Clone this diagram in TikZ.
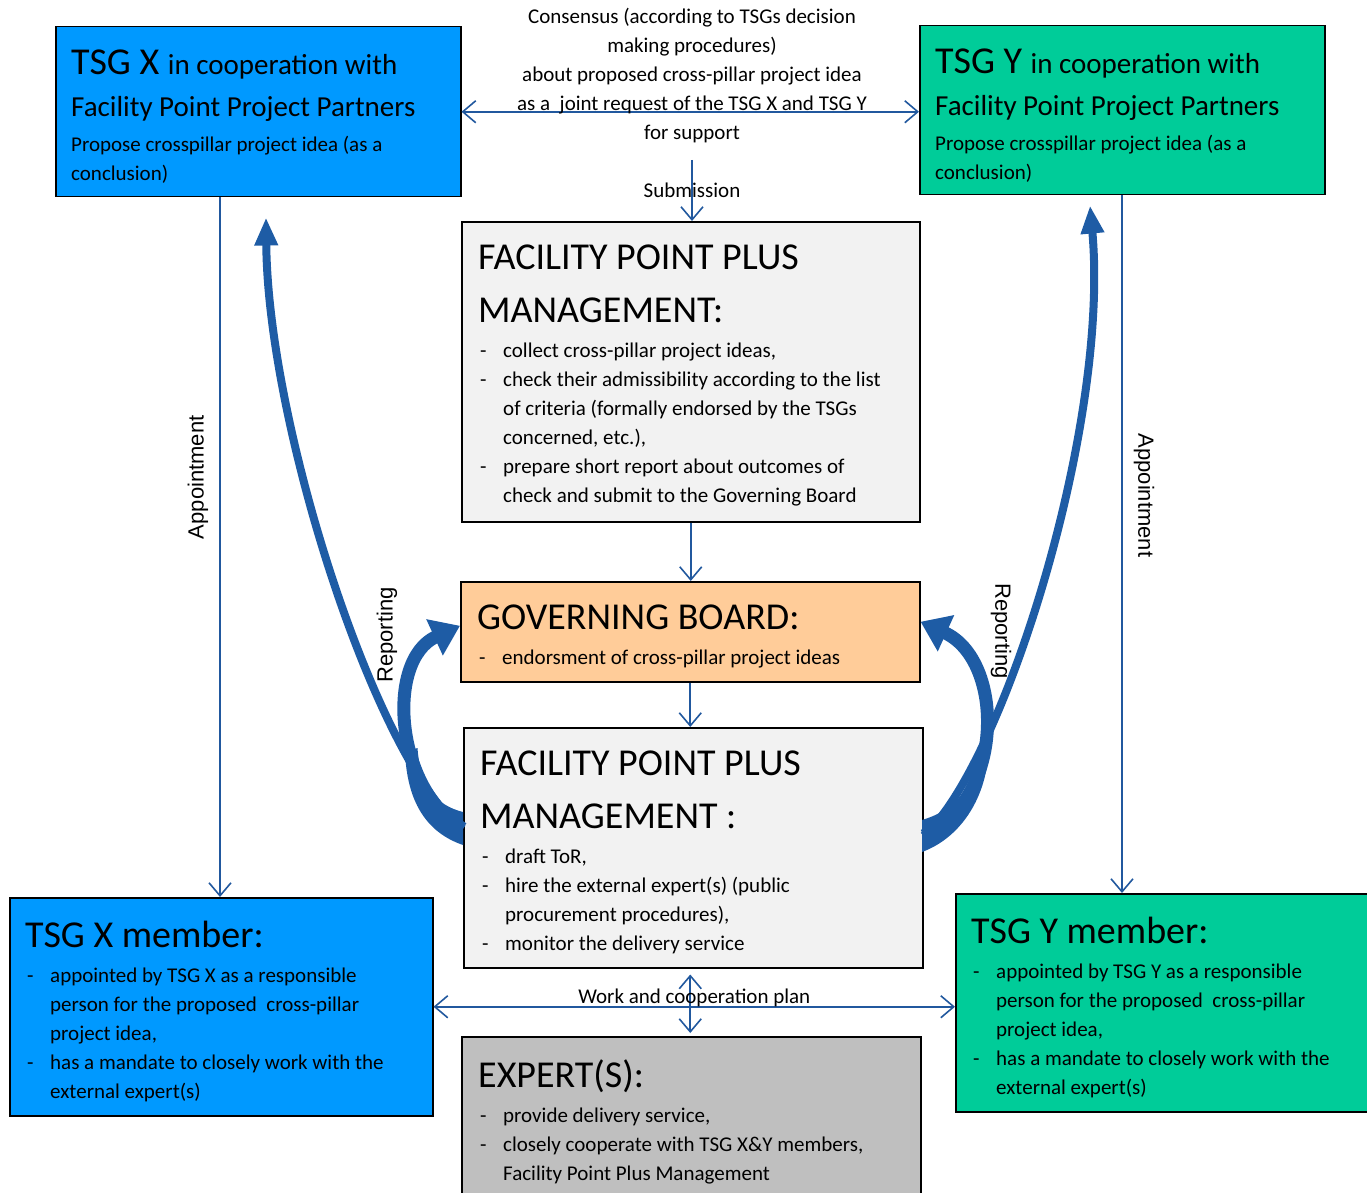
\documentclass[tikz,border=0pt]{standalone}
\usepackage{fontspec}
\setmainfont{Carlito}
\newfontfamily\arialfont{Liberation Sans}
\usetikzlibrary{positioning,arrows.meta}

\definecolor{tsgxblue}{RGB}{0,153,255}
\definecolor{tsgygreen}{RGB}{0,204,153}
\definecolor{boardpeach}{RGB}{255,204,153}
\definecolor{mgmtgray}{RGB}{242,242,242}
\definecolor{expertgray}{RGB}{191,191,191}
\definecolor{linkblue}{RGB}{33,88,158}
\definecolor{swooshblue}{RGB}{30,92,165}

\newcommand{\titlefont}{\fontsize{38}{53}\selectfont\spaceskip=0pt\xspaceskip=0pt}
\newcommand{\midfont}{\fontsize{29}{42}\selectfont\spaceskip=0pt\xspaceskip=0pt}
\newcommand{\bodyfont}{\fontsize{21}{29}\selectfont\spaceskip=0pt\xspaceskip=0pt}
\newcommand{\bodygap}{\vspace{6pt}}
\newcommand{\itm}[1]{\par\hangindent=25pt\hangafter=1\noindent\makebox[25pt][l]{\hspace{2pt}-}#1\par}

\tikzset{
  panel/.style={draw=black, line width=1.5pt, anchor=north west, inner sep=0pt},
  paneltext/.style={inner sep=0pt, text width=#1, execute at begin node={\raggedright}},
  link/.style={draw=linkblue, line width=1.6pt, >={Straight Barb[length=13pt,width=22pt]}, ->},
  twoway/.style={link, <->},
  swoosh/.style 2 args={draw=swooshblue, line width=#1, -{Triangle[length=28pt,width=#2]}},
  swooshbase/.style={fill=swooshblue},
  sidelabel/.style={font=\arialfont\fontsize{22}{26}\selectfont, inner sep=11pt}
}

\begin{document}
\begin{tikzpicture}[x=1pt,y=-1pt]
\useasboundingbox (0,0) rectangle (1367,1193);

% TSG boxes on top
\node[panel, fill=tsgxblue, minimum width=405pt, minimum height=170pt] (tsgx) at (55,26) {};
\node[paneltext=390pt, below right=24pt and 16pt of tsgx.north west] (tsgxtext) {%
  \titlefont TSG X \midfont in cooperation with\par
  \midfont Facility Point Project Partners\par
  \bodygap\bodyfont Propose crosspillar project idea (as a\newline conclusion)\par};

\node[panel, fill=tsgygreen, minimum width=405pt, minimum height=169pt] (tsgy) at (919,25) {};
\node[paneltext=390pt, below right=24pt and 16pt of tsgy.north west] (tsgytext) {%
  \titlefont TSG Y \midfont in cooperation with\par
  \midfont Facility Point Project Partners\par
  \bodygap\bodyfont Propose crosspillar project idea (as a\newline conclusion)\par};

% Management, board, experts in the middle
\node[panel, fill=mgmtgray, minimum width=458pt, minimum height=300pt] (mgmtA) at (461,221) {};
\node[paneltext=440pt, below right=24pt and 17pt of mgmtA.north west] (mgmtAtext) {%
  \titlefont FACILITY POINT PLUS\newline MANAGEMENT:\par
  \bodygap\bodyfont
  \itm{collect cross-pillar project ideas,}
  \itm{check their admissibility according to the list\newline of criteria (formally endorsed by the TSGs\newline concerned, etc.),}
  \itm{prepare short report about outcomes of\newline check and submit to the Governing Board}};

\node[panel, fill=boardpeach, minimum width=459pt, minimum height=100pt] (gb) at (460,581) {};
\node[paneltext=440pt, below right=24pt and 17pt of gb.north west] (gbtext) {%
  \titlefont GOVERNING BOARD:\par
  \bodygap\bodyfont
  \itm{endorsment of cross-pillar project ideas}};

\node[panel, fill=mgmtgray, minimum width=459pt, minimum height=240pt] (mgmtB) at (463,727) {};
\node[paneltext=440pt, below right=24pt and 17pt of mgmtB.north west] (mgmtBtext) {%
  \titlefont FACILITY POINT PLUS\newline MANAGEMENT :\par
  \bodygap\bodyfont
  \itm{draft ToR,}
  \itm{hire the external expert(s) (public\newline procurement procedures),}
  \itm{monitor the delivery service}};

\node[panel, fill=expertgray, minimum width=459pt, minimum height=175pt] (expert) at (461,1036) {};
\node[paneltext=440pt, below right=23pt and 17pt of expert.north west] (experttext) {%
  \titlefont EXPERT(S):\par
  \bodygap\bodyfont
  \itm{provide delivery service,}
  \itm{closely cooperate with TSG X\&Y members,\newline Facility Point Plus Management}};

% Members at the bottom
\node[panel, fill=tsgxblue, minimum width=423pt, minimum height=218pt] (memx) at (9,897) {};
\node[paneltext=405pt, below right=24pt and 16pt of memx.north west] (memxtext) {%
  \titlefont TSG X member:\par
  \bodygap\bodyfont
  \itm{appointed by TSG X as a responsible\newline person for the proposed\ \ cross-pillar\newline project idea,}
  \itm{has a mandate to closely work with the\newline external expert(s)}};

\node[panel, fill=tsgygreen, minimum width=417pt, minimum height=218pt] (memy) at (955,893) {};
\node[paneltext=400pt, below right=24pt and 16pt of memy.north west] (memytext) {%
  \titlefont TSG Y member:\par
  \bodygap\bodyfont
  \itm{appointed by TSG Y as a responsible\newline person for the proposed\ \ cross-pillar\newline project idea,}
  \itm{has a mandate to closely work with the\newline external expert(s)}};

% Consensus and submission
\draw[twoway] (tsgx.east) -- (tsgx.east -| tsgy.west);
\node[font=\bodyfont, align=center] (consensus) at (692,76) {Consensus (according to TSGs decision\\making procedures)\\about proposed cross-pillar project idea\\as a\ \ joint request of the TSG X and TSG Y\\for support};
\coordinate (subm) at (692,160);
\draw[link] (subm) -- (subm |- mgmtA.north) node[midway, font=\bodyfont] (submlabel) {Submission};

\draw[link] (mgmtA.south) -- (mgmtA.south |- gb.north);
\draw[link] (gb.south) -- (gb.south |- mgmtB.north);
\draw[twoway] ([yshift=-6pt]mgmtB.south -| gb.south) -- ([yshift=3pt]expert.north -| gb.south);

% Work plan
\draw[twoway] (memx.east) -- (memx.east -| memy.west) node[midway, anchor=base, yshift=3pt, font=\bodyfont] (planlabel) {Work and cooperation plan};

% Appointment
\coordinate (apx) at ([xshift=165pt]tsgx.south west);
\coordinate (apy) at ([xshift=203pt]tsgy.south west);
\draw[link] (apx) -- (apx |- memx.north) node[sidelabel, pos=0.4, rotate=90, anchor=south] (apxlabel) {Appointment};
\draw[link] (apy) -- (apy |- memy.north) node[sidelabel, pos=0.43, rotate=-90, anchor=south] (apylabel) {Appointment};

% Reporting swooshes
\coordinate (repxbase) at ([yshift=19pt]mgmtB.west);
\coordinate (repybase) at ([yshift=12pt]mgmtB.east);
\coordinate (repxtip) at ([xshift=211pt,yshift=-20pt]tsgx.south west);
\coordinate (repytip) at ([xshift=171pt,yshift=-10pt]tsgy.south west);
\fill[swooshbase] (463,845) .. controls (425,832) and (407,800) .. (405,752) -- (417.5,748) .. controls (420,785) and (435,805) .. (463,812) -- cycle;
\fill[swooshbase] (922,852) .. controls (960,838) and (984,800) .. (988,758) -- (976,754) .. controls (972,790) and (955,810) .. (922,820) -- cycle;
\draw[swoosh={8pt}{22pt}] (repxbase) .. controls (380,770) and (268,430) .. (repxtip);
\draw[swoosh={13pt}{38pt}] (repxbase) .. controls (395,790) and (385,660) .. ([yshift=6pt]gb.west);
\draw[swoosh={8pt}{22pt}] (repybase) .. controls (1000,770) and (1110,430) .. (repytip);
\draw[swoosh={13pt}{38pt}] (repybase) .. controls (1005,800) and (1005,660) .. ([yshift=10pt]gb.east);

\node[sidelabel, inner sep=2pt, rotate=90] (repxlabel) at (387,635) {Reporting};
\node[sidelabel, inner sep=2pt, rotate=-90] (repylabel) at (1001,631) {Reporting};

\end{tikzpicture}
\end{document}
